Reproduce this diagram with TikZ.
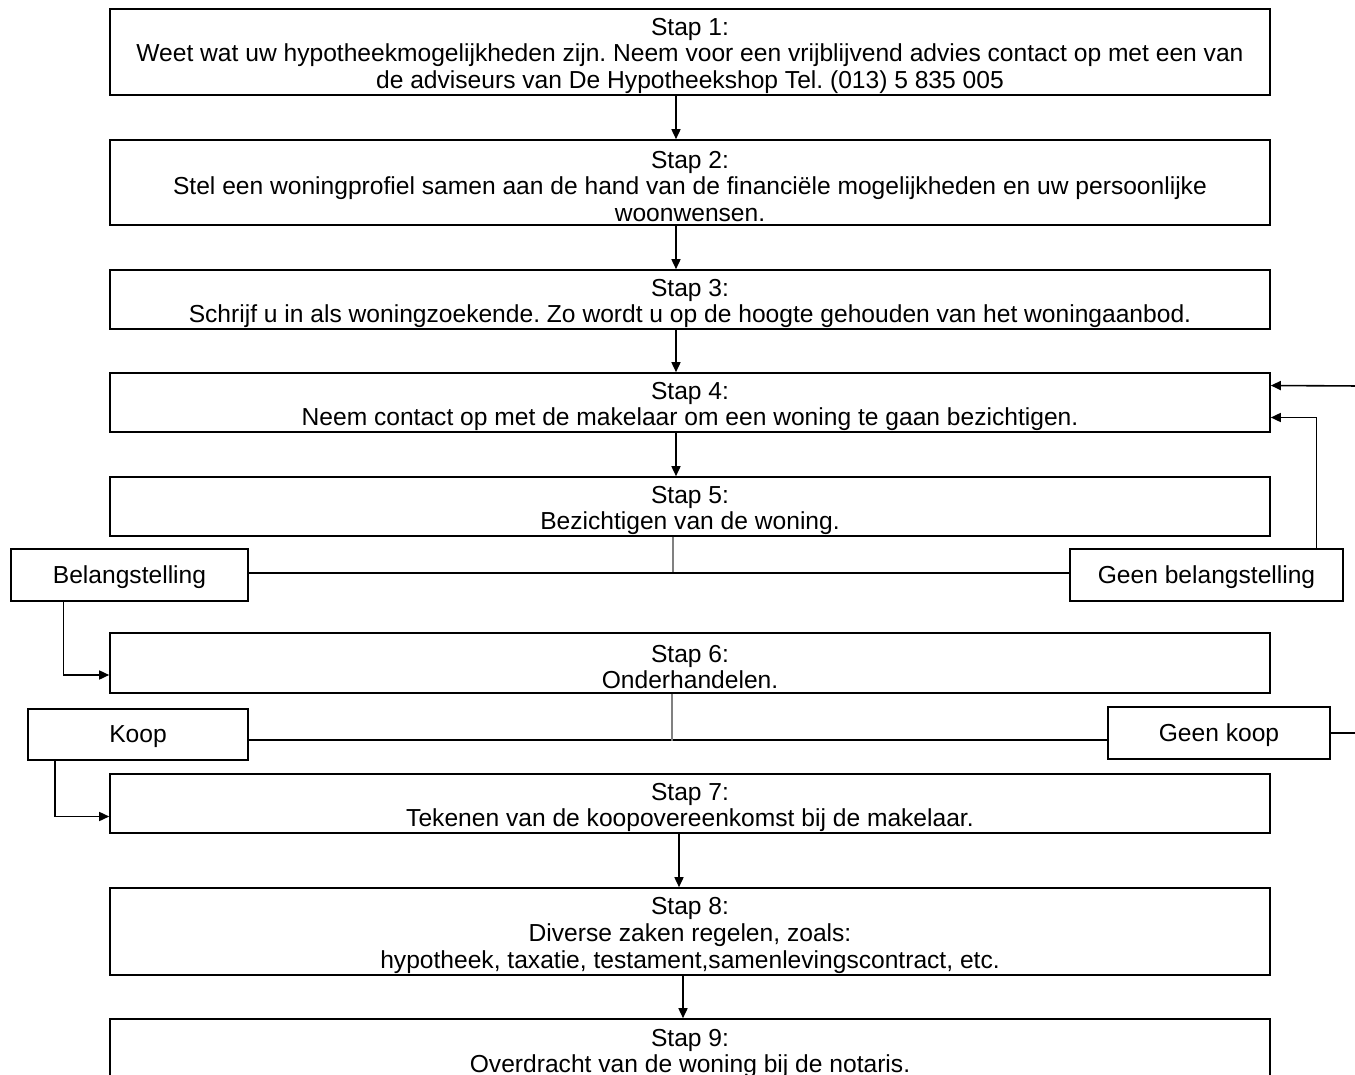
\documentclass[tikz,border=0pt]{standalone}
\usepackage{fontspec}
\setmainfont{Liberation Sans}
\usepackage{tikz}
\usetikzlibrary{arrows.meta}
\frenchspacing
\newcommand{\stapkop}[1]{\rule{0pt}{12.5pt}Stap #1:}
\tikzstyle{Stap}=[rectangle, minimum width=580pt, inner sep=0pt, align=center, draw=black, line width=0.8pt, font=\fontsize{12.3}{13.3}\selectfont]
\tikzstyle{Keuze}=[rectangle, minimum height=26pt, inner sep=0pt, execute at begin node={\rule{0pt}{11pt}}, align=center, draw=black, line width=0.8pt, font=\fontsize{12.3}{13.3}\selectfont]

\begin{document}
\begin{tikzpicture}[x=0.5pt, y=-0.5pt, >={Triangle[length=5pt, width=4.5pt]}]
    \useasboundingbox (0,0) rectangle (1355,1075);
    \path
    (690,52) node[Stap, minimum height=43pt] (s1) {\stapkop{1}\\Weet wat uw hypotheekmogelijkheden zijn. Neem voor een vrijblijvend advies contact op met een van\\de adviseurs van De Hypotheekshop Tel. (013) 5 835 005}
    (690,182.5) node[Stap, minimum height=42.5pt] (s2) {\stapkop{2}\\Stel een woningprofiel samen aan de hand van de financiële mogelijkheden en uw persoonlijke\\woonwensen.}
    (690,299.5) node[Stap, minimum height=29.5pt] (s3) {\stapkop{3}\\Schrijf u in als woningzoekende. Zo wordt u op de hoogte gehouden van het woningaanbod.}
    (690,402.5) node[Stap, minimum height=29.5pt] (s4) {\stapkop{4}\\Neem contact op met de makelaar om een woning te gaan bezichtigen.}
    (690,506.5) node[Stap, minimum height=29.5pt] (s5) {\stapkop{5}\\Bezichtigen van de woning.}
    (690,663) node[Stap, minimum height=30pt] (s6) {\stapkop{6}\\Onderhandelen.}
    (690,803.5) node[Stap, minimum height=29.5pt] (s7) {\stapkop{7}\\Tekenen van de koopovereenkomst bij de makelaar.}
    (690,931.5) node[Stap, minimum height=43.5pt] (s8) {\stapkop{8}\\Diverse zaken regelen, zoals:\\hypotheek, taxatie, testament,samenlevingscontract, etc.}
    (690,1049.5) node[Stap, minimum height=30.5pt] (s9) {\stapkop{9}\\Overdracht van de woning bij de notaris.};
    \path (129.5,575) node[Keuze, minimum width=118.5pt] (bel) {Belangstelling}
    (1206.5,575) node[Keuze, minimum width=136.5pt] (gbel) {Geen belangstelling}
    (138,734.5) node[Keuze, minimum width=110pt, minimum height=25.5pt] (koop) {Koop}
    (1219,733) node[Keuze, minimum width=111pt] (gkoop) {Geen koop};
    \coordinate (uit) at (1360,733);
    \coordinate (terug) at (1360,386);

    \draw[->, line width=0.8pt] ([xshift=-7pt]s1.south) -- ([xshift=-7pt]s2.north);
    \draw[->, line width=0.8pt] ([xshift=-7pt]s2.south) -- ([xshift=-7pt]s3.north);
    \draw[->, line width=0.8pt] ([xshift=-7pt]s3.south) -- ([xshift=-7pt]s4.north);
    \draw[->, line width=0.8pt] ([xshift=-7pt]s4.south) -- ([xshift=-7pt]s5.north);
    \draw[->, line width=0.8pt] ([xshift=-5.5pt]s7.south) -- ([xshift=-5.5pt]s8.north);
    \draw[->, line width=0.8pt] ([xshift=-3.5pt]s8.south) -- ([xshift=-3.5pt]s9.north);
    \draw[line width=0.8pt] ([yshift=1pt]bel.east) -- ([yshift=1pt]gbel.west);
    \draw[line width=0.8pt] (koop.east |- 0,740) -- (gkoop.west |- 0,740);
    \draw[gray, line width=0.6pt] ([xshift=-8.5pt]s5.south) -- +(0,-17.5pt);
    \draw[gray, line width=0.6pt] ([xshift=-9pt]s6.south) -- +(0,-23.5pt);
    \draw[->, line width=0.8pt] ([xshift=-33pt]bel.south) |- ([yshift=-6pt]s6.west);
    \draw[->, line width=0.8pt] ([xshift=-41.5pt]koop.south) |- ([yshift=-6.5pt]s7.west);
    \draw[->, line width=0.8pt] ([xshift=55pt]gbel.north) |- ([yshift=-7.5pt]s4.east);
    \draw[line width=0.8pt] (gkoop.east) -- (uit);
    \draw[->, line width=0.8pt] (terug) -- ([yshift=8.5pt]s4.east);
\end{tikzpicture}
\end{document}
